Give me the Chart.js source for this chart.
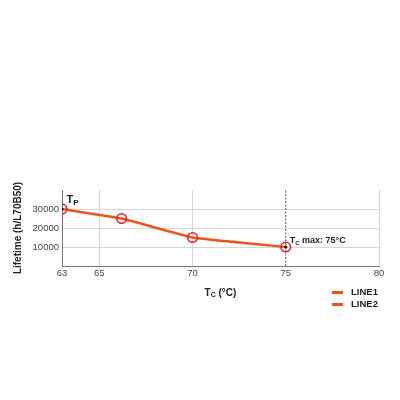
<!DOCTYPE html>
<html>
<head>
<meta charset="utf-8">
<script src="https://cdn.jsdelivr.net/npm/chart.js@4/dist/chart.umd.min.js"></script>
<style>
  body { margin: 0; background: #fff; font-family: "Liberation Sans", Arial, sans-serif; }
  #wrap { position: relative; width: 400px; height: 400px; }
  #legend { position: absolute; left: 332px; top: 286px; }
  #legend div { height: 12px; line-height: 12px; font-size: 9.5px; font-weight: bold; color: #222; white-space: nowrap; }
  #legend span { display: inline-block; width: 11px; height: 3px; margin-right: 8px; vertical-align: middle; }
</style>
</head>
<body>
<div id="wrap">
  <canvas id="chart" width="400" height="400"></canvas>
  <div id="legend"></div>
</div>
<script>
// data
const tempVals = [63, 66.2, 70, 75];
const lifeVals = [30000, 25000, 15000, 10000];
const keyTemps = [63, 75];
const keyLifes = [30000, 10000];
const xTicks = [63, 65, 70, 75, 80];
const yTicks = [10000, 20000, 30000];
const seriesNames = ["LINE1", "LINE2"];
const tcMax = 75;

const ORANGE = "#E8561E";
const RED = "#D8232A";
const FONT = "'Liberation Sans', Arial, sans-serif";

// annotations (subscripts drawn by hand)
function subText(ctx, x, y, main, sub, rest, size) {
  ctx.save();
  ctx.fillStyle = "#222";
  ctx.textBaseline = "middle";
  ctx.textAlign = "left";
  ctx.font = "bold " + size + "px " + FONT;
  ctx.fillText(main, x, y);
  x += ctx.measureText(main).width;
  ctx.font = "bold " + Math.round(size * 0.72) + "px " + FONT;
  ctx.fillText(sub, x, y + 2.5);
  x += ctx.measureText(sub).width;
  if (rest) {
    ctx.font = "bold " + size + "px " + FONT;
    ctx.fillText(rest, x, y);
  }
  ctx.restore();
}

const labelsPlugin = {
  id: "labels",
  afterDatasetsDraw(chart) {
    const ctx = chart.ctx;
    const xs = chart.scales.x, ys = chart.scales.y;
    const p1x = xs.getPixelForValue(keyTemps[0]), p1y = ys.getPixelForValue(keyLifes[0]);
    subText(ctx, p1x + 4.5, p1y - 9, "T", "P", "", 11);
    const p2x = xs.getPixelForValue(keyTemps[1]), p2y = ys.getPixelForValue(keyLifes[1]);
    subText(ctx, p2x + 4, p2y - 6, "T", "C", " max: 75°C", 9);
    // x axis title
    ctx.save();
    ctx.font = "bold 10px " + FONT;
    let w = ctx.measureText("T").width + ctx.measureText(" (°C)").width;
    ctx.font = "bold 7px " + FONT;
    w += ctx.measureText("C").width;
    ctx.restore();
    const cx = (chart.chartArea.left + chart.chartArea.right) / 2;
    subText(ctx, cx - w / 2, 293, "T", "C", " (°C)", 10);
  }
};

const chart = new Chart(document.getElementById("chart"), {
  type: "line",
  data: {
    datasets: [
      {
        label: seriesNames[0],
        data: tempVals.map((t, i) => ({ x: t, y: lifeVals[i] })),
        borderColor: ORANGE,
        backgroundColor: ORANGE,
        borderWidth: 2.5,
        tension: 0.1,
        pointRadius: 4.8,
        pointBorderWidth: 1.5,
        pointBorderColor: RED,
        pointBackgroundColor: "rgba(255,255,255,0)",
        order: 1
      },
      {
        label: seriesNames[1],
        data: keyTemps.map((t, i) => ({ x: t, y: keyLifes[i] })),
        borderColor: ORANGE,
        backgroundColor: ORANGE,
        showLine: false,
        pointRadius: 1.6,
        pointBorderWidth: 0,
        pointBackgroundColor: "#111",
        order: 0
      },
      {
        label: "Tc max",
        data: [{ x: tcMax, y: 0 }, { x: tcMax, y: 40000 }],
        borderColor: "#555",
        borderWidth: 1,
        borderDash: [2, 1.5],
        pointRadius: 0,
        order: 2
      }
    ]
  },
  options: {
    responsive: false,
    animation: false,
    layout: { padding: { top: 190, left: 12, right: 21, bottom: 0 } },
    plugins: {
      legend: { display: false },
      tooltip: { enabled: false }
    },
    scales: {
      x: {
        type: "linear",
        min: 63,
        max: 80,
        afterBuildTicks: s => { s.ticks = xTicks.map(v => ({ value: v })); },
        afterFit: s => { s.height = 134; },
        ticks: { font: { family: FONT, size: 9.5 }, color: "#444", padding: 2, callback: v => String(v) },
        grid: {
          drawTicks: false,
          color: c => (c.tick && c.tick.value === tcMax ? "rgba(0,0,0,0)" : "#d6d6d6")
        },
        border: { color: "#777", width: 1 }
      },
      y: {
        min: 0,
        max: 40000,
        afterBuildTicks: s => { s.ticks = yTicks.map(v => ({ value: v })); },
        afterFit: s => { s.width = 50; },
        ticks: { font: { family: FONT, size: 9.5 }, color: "#444", padding: 3, callback: v => String(v) },
        grid: { drawTicks: false, color: "#d6d6d6" },
        border: { color: "#777", width: 1 },
        title: {
          display: true,
          text: "Lifetime (h/L70B50)",
          font: { family: FONT, size: 10, weight: "bold" },
          color: "#222",
          padding: 0
        }
      }
    }
  },
  plugins: [labelsPlugin]
});

// legend built from the dataset names
const legend = document.getElementById("legend");
chart.data.datasets.slice(0, 2).forEach(ds => {
  const row = document.createElement("div");
  row.innerHTML = '<span style="background:' + ds.borderColor + '"></span>' + ds.label;
  legend.appendChild(row);
});
</script>
</body>
</html>
